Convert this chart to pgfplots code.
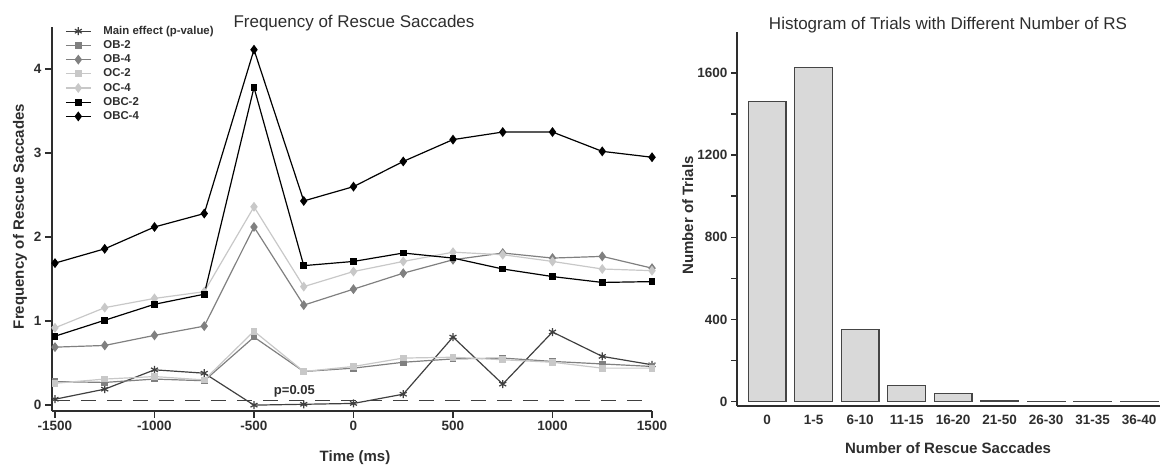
\documentclass[border=0pt]{standalone}
\usepackage{pgfplots}
\pgfplotsset{compat=1.18}
\usepackage{fontspec}
\setmainfont{Liberation Sans}

\definecolor{axgray}{HTML}{2E2E2E}
\definecolor{obgray}{HTML}{808080}
\definecolor{ocgray}{HTML}{C8C8C8}
\definecolor{megray}{HTML}{404040}
\definecolor{barfill}{HTML}{D9D9D9}
\definecolor{baredge}{HTML}{454545}

\newcommand{\tickfont}{\fontsize{13.5}{13.5}\selectfont\bfseries}
\newcommand{\labfont}{\fontsize{15}{15}\selectfont\bfseries}
\newcommand{\titfont}{\fontsize{17}{17}\selectfont}

\pgfplotsset{
  panel/.style={
    scale only axis,
    axis lines=left,
    axis line style={line width=1.9pt, color=axgray, -},
    tick align=outside,
    tick style={line width=1.6pt, color=axgray},
    ticklabel style={font=\tickfont, color=axgray},
    /pgf/number format/assume math mode=true,
    /pgf/number format/1000 sep={},
    clip=false,
  },
  ser/.style={line width=1.2pt, color=#1, mark options={solid, fill=#1}},
}

\begin{document}
\begin{tikzpicture}
\useasboundingbox (0,0) rectangle (1162pt,464pt);

% left panel: frequency over time
\begin{axis}[
  panel,
  at={(52pt,53pt)}, anchor=south west,
  width=600pt, height=384pt,
  xmin=-1515, xmax=1500, ymin=-0.07, ymax=4.5,
  xtick={-1500,-1000,...,1500}, ytick={0,1,2,3,4},
  major tick length=7pt,
  legend cell align=left,
  legend image code/.code={
    \draw[mark repeat=2, mark phase=2, #1] plot coordinates {(0pt,0pt) (12.5pt,0pt) (25pt,0pt)};},
  legend style={draw=none, fill=none, at={(rel axis cs:0,1)}, anchor=north west,
    xshift=13pt, yshift=2pt, inner sep=0pt, row sep=2.2pt,
    font=\fontsize{11.4}{11.4}\selectfont\bfseries, text=axgray,
    nodes={inner sep=0pt, text height=9pt, text depth=3pt},
    /tikz/every odd column/.append style={column sep=12pt}},
]
\addplot[ser=megray, mark=asterisk, mark size=4pt] coordinates {
  (-1500,0.07) (-1250,0.19) (-1000,0.42) (-750,0.38) (-500,0.00) (-250,0.01) (0,0.02)
  (250,0.13) (500,0.81) (750,0.25) (1000,0.87) (1250,0.58) (1500,0.48)};
\addplot[ser=obgray, mark=square*, mark size=2.8pt] coordinates {
  (-1500,0.28) (-1250,0.27) (-1000,0.31) (-750,0.29) (-500,0.81) (-250,0.40) (0,0.44)
  (250,0.51) (500,0.55) (750,0.56) (1000,0.52) (1250,0.49) (1500,0.46)};
\addplot[ser=obgray, mark=diamond*, mark size=4pt] coordinates {
  (-1500,0.69) (-1250,0.71) (-1000,0.83) (-750,0.94) (-500,2.12) (-250,1.19) (0,1.38)
  (250,1.57) (500,1.73) (750,1.81) (1000,1.75) (1250,1.77) (1500,1.63)};
\addplot[ser=ocgray, mark=square*, mark size=2.8pt] coordinates {
  (-1500,0.26) (-1250,0.31) (-1000,0.34) (-750,0.30) (-500,0.88) (-250,0.40) (0,0.46)
  (250,0.56) (500,0.57) (750,0.54) (1000,0.51) (1250,0.44) (1500,0.44)};
\addplot[ser=ocgray, mark=diamond*, mark size=4pt] coordinates {
  (-1500,0.92) (-1250,1.16) (-1000,1.27) (-750,1.35) (-500,2.36) (-250,1.41) (0,1.59)
  (250,1.71) (500,1.82) (750,1.79) (1000,1.71) (1250,1.62) (1500,1.60)};
\addplot[ser=black, mark=square*, mark size=2.8pt] coordinates {
  (-1500,0.82) (-1250,1.01) (-1000,1.20) (-750,1.32) (-500,3.78) (-250,1.66) (0,1.71)
  (250,1.81) (500,1.75) (750,1.62) (1000,1.53) (1250,1.46) (1500,1.47)};
\addplot[ser=black, mark=diamond*, mark size=4pt] coordinates {
  (-1500,1.69) (-1250,1.86) (-1000,2.12) (-750,2.28) (-500,4.23) (-250,2.43) (0,2.60)
  (250,2.90) (500,3.16) (750,3.25) (1000,3.25) (1250,3.02) (1500,2.95)};
\addplot[megray, line width=1pt, dash pattern=on 15pt off 11pt, forget plot] coordinates {
  (-1500,0.05) (1500,0.05)};
\legend{Main effect (p-value),OB-2,OB-4,OC-2,OC-4,OBC-2,OBC-4}
\node[font=\fontsize{13}{13}\selectfont\bfseries, text=axgray] at (axis cs:-297,0.17) {p=0.05};
\end{axis}

% right panel: histogram
\begin{axis}[
  panel,
  at={(737pt,58.3pt)}, anchor=south west,
  width=423pt, height=373.7pt,
  xmin=-0.65, xmax=8.45, ymin=-20, ymax=1800,
  xtick={0,...,8},
  xticklabels={0,1-5,6-10,11-15,16-20,21-50,26-30,31-35,36-40},
  x tick style={draw=none},
  ytick={0,400,800,1200,1600}, minor ytick={200,600,1000,1400},
  major tick length=6pt, minor tick length=6pt,
]
\addplot[ybar, bar width=37.7pt, fill=barfill, draw=baredge, line width=1.2pt] coordinates {
  (0,1463) (1,1629) (2,353) (3,77) (4,38) (5,3) (6,1) (7,2) (8,1)};
\end{axis}

% titles and axis labels
\node[font=\titfont, text=axgray, anchor=base] at (354pt,436.7pt) {Frequency of Rescue Saccades};
\node[font=\titfont, text=axgray, anchor=base] at (948pt,434.7pt) {Histogram of Trials with Different Number of RS};
\node[font=\labfont, text=axgray, anchor=base] at (355pt,3pt) {Time (ms)};
\node[font=\labfont, text=axgray, anchor=base] at (948pt,11pt) {Number of Rescue Saccades};
\node[font=\labfont, text=axgray, anchor=base, rotate=90] at (24pt,247.5pt) {Frequency of Rescue Saccades};
\node[font=\labfont, text=axgray, anchor=base, rotate=90] at (693pt,248.5pt) {Number of Trials};
\end{tikzpicture}
\end{document}
